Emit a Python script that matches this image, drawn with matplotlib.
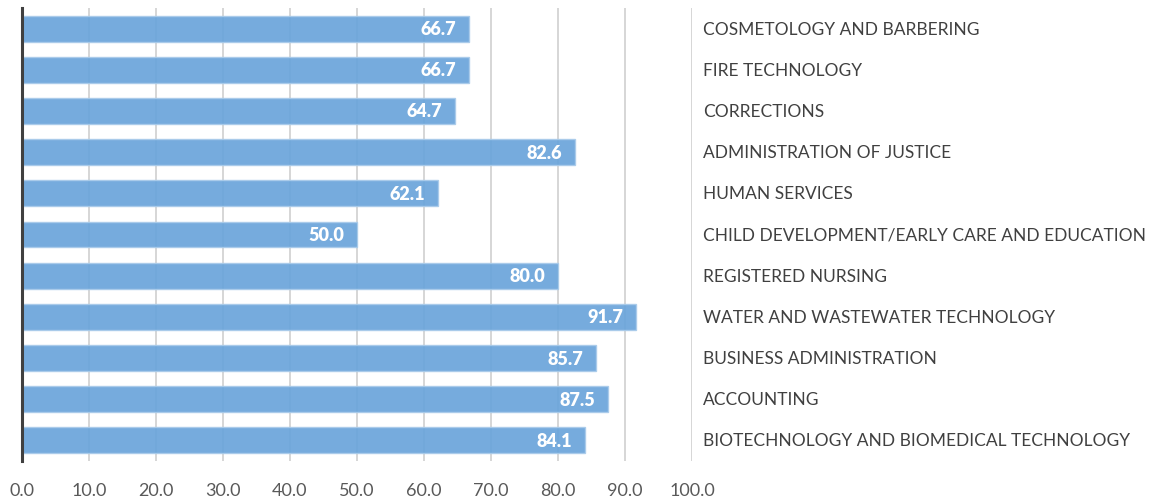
import matplotlib
matplotlib.use("Agg")
import matplotlib.pyplot as plt

categories = [
    "COSMETOLOGY AND BARBERING",
    "FIRE TECHNOLOGY",
    "CORRECTIONS",
    "ADMINISTRATION OF JUSTICE",
    "HUMAN SERVICES",
    "CHILD DEVELOPMENT/EARLY CARE AND EDUCATION",
    "REGISTERED NURSING",
    "WATER AND WASTEWATER TECHNOLOGY",
    "BUSINESS ADMINISTRATION",
    "ACCOUNTING",
    "BIOTECHNOLOGY AND BIOMEDICAL TECHNOLOGY",
]
values = [66.7, 66.7, 64.7, 82.6, 62.1, 50.0, 80.0, 91.7, 85.7, 87.5, 84.1]
xticks = [0, 10, 20, 30, 40, 50, 60, 70, 80, 90, 100]

plt.rcParams['font.family'] = ['Lato', 'DejaVu Sans']

fig = plt.figure(figsize=(11.5, 5), dpi=100)
ax = fig.add_axes([22/1150, 1 - 461/500, 670/1150, 453/500])

ypos = list(range(len(categories)))[::-1]
ax.barh(ypos, values, height=0.63, color="#6aa4db", edgecolor="#a9cbea",
        linewidth=1.0, alpha=0.92, zorder=2)

for y, v, c in zip(ypos, values, categories):
    ax.annotate(f"{v:.1f}", xy=(v, y), xytext=(-13, -1), textcoords="offset pixels",
                ha="right", va="center", color="white", fontweight="heavy",
                fontsize=13, zorder=3)
    ax.annotate(c, xy=(100, y), xytext=(11, -1), textcoords="offset pixels",
                ha="left", va="center", color="#404040", fontsize=12.5,
                annotation_clip=False)

ax.set_xlim(0, 100)
ax.set_ylim(-0.5, len(categories) - 0.5)
ax.set_xticks(xticks)
ax.set_xticklabels([f"{t:.1f}" for t in xticks], fontsize=13, color="#595959")
ax.set_yticks([])
ax.tick_params(axis="x", length=0, pad=16)
ax.grid(axis="x", color="#d0d0d0", linewidth=1.2, zorder=1)
ax.set_axisbelow(True)
for s in ["top", "right", "bottom"]:
    ax.spines[s].set_visible(False)
ax.spines["left"].set_color("#404040")
ax.spines["left"].set_linewidth(2.2)
ax.spines["left"].set_zorder(4)

fig.savefig("out.png", dpi=100)
